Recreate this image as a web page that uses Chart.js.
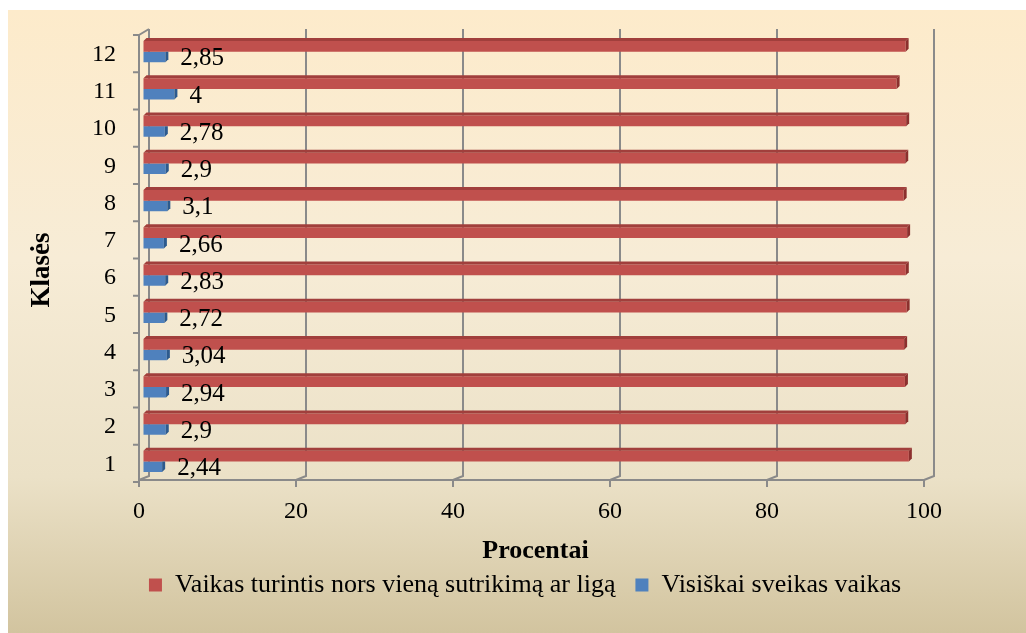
<!DOCTYPE html>
<html>
<head>
<meta charset="utf-8">
<script src="https://cdn.jsdelivr.net/npm/chart.js@4"></script>
<style>
  html, body { margin: 0; padding: 0; background: #fff; }
  #wrap { position: relative; width: 1026px; height: 633px; overflow: hidden; }
  #bg {
    position: absolute; left: 8px; top: 10px; right: 0; bottom: 0;
    background: linear-gradient(to bottom, #fdebcb 0%, #f7ecd6 40%, #ebe1c7 75%, #d2c49f 100%);
  }
  canvas { position: absolute; left: 0; top: 0; }
</style>
</head>
<body>
<div id="wrap">
  <div id="bg"></div>
  <canvas id="chart" width="1026" height="633"></canvas>
</div>
<script>
const classes = ['1', '2', '3', '4', '5', '6', '7', '8', '9', '10', '11', '12'];
const withDisorder = [97.56, 97.1, 97.06, 96.96, 97.28, 97.17, 97.34, 96.9, 97.1, 97.22, 96, 97.15];
const healthy = [2.44, 2.9, 2.94, 3.04, 2.72, 2.83, 2.66, 3.1, 2.9, 2.78, 4, 2.85];
const xTicks = [0, 20, 40, 60, 80, 100];

const serif = 'Liberation Serif, Times New Roman, serif';
const red = '#c0504d', blue = '#4f81bd';

// walls, floor and axis lines of the 3D box
const frame = {
  id: 'frame',
  beforeDatasetsDraw(chart) {
    const { ctx, chartArea: a, scales: { x, y } } = chart;
    ctx.save();
    ctx.strokeStyle = '#8a8a8a';
    ctx.lineWidth = 2;
    ctx.beginPath();
    x.ticks.forEach(t => {
      const px = x.getPixelForValue(t.value);
      ctx.moveTo(px + 6, a.top - 4);
      ctx.lineTo(px + 6, a.bottom - 4);
      ctx.lineTo(px - 4, a.bottom);
      ctx.lineTo(px - 4, a.bottom + 7);
    });
    const x0 = x.getPixelForValue(0) - 4;
    const x1 = x.getPixelForValue(100) - 4;
    ctx.moveTo(x0, a.bottom);
    ctx.lineTo(x1, a.bottom);
    ctx.moveTo(x0 + 10, a.top - 4);
    ctx.lineTo(x0, a.top + 2);
    ctx.lineTo(x0, a.bottom);
    for (let i = 0; i <= classes.length; i++) {
      const py = y.getPixelForValue(i - 0.5) + 2;
      ctx.moveTo(x0 - 6, py);
      ctx.lineTo(x0, py);
    }
    ctx.stroke();
    ctx.restore();
  }
};

// top and end faces of the bars, plus value labels
const faces = {
  id: 'faces',
  afterDatasetsDraw(chart) {
    const ctx = chart.ctx;
    const d = 3;
    ctx.save();
    chart.getDatasetMeta(0).data.forEach(bar => {
      const { x, y, base, height } = bar.getProps(['x', 'y', 'base', 'height'], true);
      const top = y - height / 2, bottom = y + height / 2;
      ctx.fillStyle = '#a13f3c';
      ctx.beginPath();
      ctx.moveTo(base, top); ctx.lineTo(x, top); ctx.lineTo(x + d, top - d); ctx.lineTo(base + d, top - d);
      ctx.closePath(); ctx.fill();
      ctx.fillStyle = '#8c302e';
      ctx.beginPath();
      ctx.moveTo(x, top); ctx.lineTo(x + d, top - d); ctx.lineTo(x + d, bottom - d); ctx.lineTo(x, bottom);
      ctx.closePath(); ctx.fill();
    });
    ctx.font = '25px ' + serif;
    ctx.textBaseline = 'middle';
    ctx.textAlign = 'left';
    chart.getDatasetMeta(1).data.forEach((bar, i) => {
      const { x, y, height } = bar.getProps(['x', 'y', 'height'], true);
      const top = y - height / 2, bottom = y + height / 2;
      ctx.fillStyle = '#2c5a8e';
      ctx.beginPath();
      ctx.moveTo(x, top); ctx.lineTo(x + d, top); ctx.lineTo(x + d, bottom - d); ctx.lineTo(x, bottom);
      ctx.closePath(); ctx.fill();
      ctx.fillStyle = '#000';
      ctx.fillText(String(healthy[i]).replace('.', ','), x + 15, y + 2);
    });
    ctx.restore();
  }
};

// legend sits under the plot, a bit right of the canvas centre
const legendShift = {
  id: 'legendShift',
  afterLayout(chart) {
    const l = chart.legend;
    const shift = 525 - (l.left + l.right) / 2;
    l.left += shift;
    l.right += shift;
  }
};

new Chart(document.getElementById('chart'), {
  type: 'bar',
  data: {
    labels: classes,
    datasets: [
      {
        label: 'Vaikas turintis nors vieną sutrikimą ar ligą',
        data: withDisorder,
        backgroundColor: red,
        borderWidth: 0,
        categoryPercentage: 0.57,
        barPercentage: 1
      },
      {
        label: 'Visiškai sveikas vaikas',
        data: healthy,
        backgroundColor: blue,
        borderWidth: 0,
        categoryPercentage: 0.57,
        barPercentage: 1
      }
    ]
  },
  options: {
    indexAxis: 'y',
    responsive: false,
    animation: false,
    layout: { padding: { left: 20, right: 98, top: 33, bottom: 25 } },
    scales: {
      x: {
        min: 0,
        max: 100,
        afterBuildTicks: s => { s.ticks = xTicks.map(v => ({ value: v })); },
        afterFit: s => { s.height = 72; },
        grid: { drawOnChartArea: false, drawTicks: false },
        border: { display: false },
        ticks: { padding: 17, labelOffset: -4, color: '#000', font: { family: serif, size: 24 } },
        title: {
          display: true,
          text: 'Procentai',
          color: '#000',
          font: { family: serif, size: 26, weight: 'bold' },
          padding: { top: 0, bottom: -15 }
        }
      },
      y: {
        reverse: true,
        afterFit: s => { s.width = 123; },
        // invisible tick marks keep the labels clear of the axis
        grid: { drawOnChartArea: false, drawTicks: true, tickLength: 22, tickColor: 'rgba(0,0,0,0)' },
        border: { display: false },
        ticks: { padding: 5, labelOffset: 3, color: '#000', font: { family: serif, size: 24 } },
        title: {
          display: true,
          // trailing spaces nudge the word a little below the axis centre
          text: 'Klasės    ',
          color: '#000',
          font: { family: serif, size: 27, weight: 'bold' },
          padding: { top: 6, bottom: 0 }
        }
      }
    },
    plugins: {
      legend: {
        position: 'bottom',
        labels: { boxWidth: 13, boxHeight: 13, padding: 20, color: '#000', font: { family: serif, size: 26 } }
      },
      tooltip: { enabled: false }
    }
  },
  plugins: [frame, faces, legendShift]
});
</script>
</body>
</html>
